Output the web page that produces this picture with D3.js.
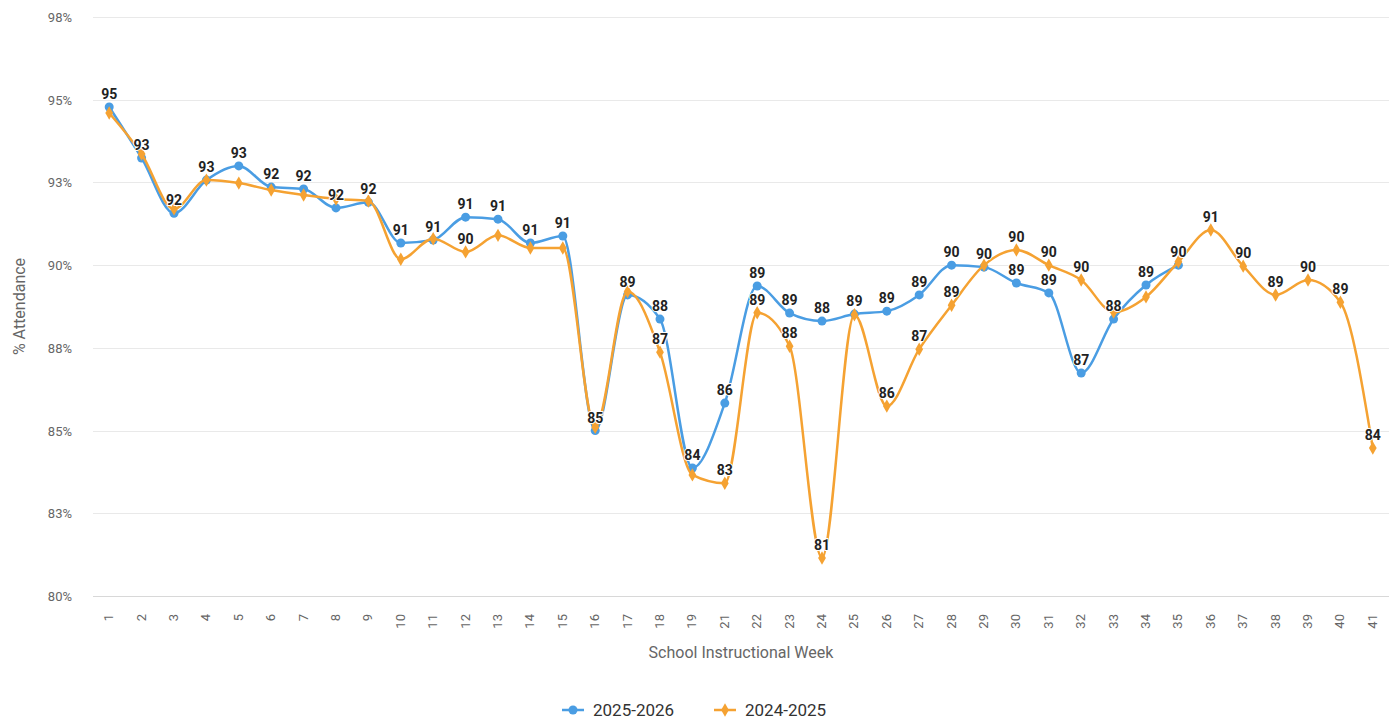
<!DOCTYPE html>
<html lang="en">
<head>
  <meta charset="UTF-8" />
  <title>Weekly Attendance</title>
  <script src="https://d3js.org/d3.v7.min.js"></script>
  <style>
    body {
      margin: 0;
      background: #fff;
      font-family: Roboto, "Noto Sans", sans-serif;
    }
    .grid line {
      stroke: #e9e9e9;
      stroke-width: 1px;
    }
    .tick-label {
      font-size: 13px;
      fill: #666;
    }
    .axis-title {
      font-size: 16px;
      fill: #666;
    }
    .data-label {
      font-size: 14px;
      font-weight: bold;
      fill: #222;
      stroke: #fff;
      stroke-width: 2px;
      paint-order: stroke;
      stroke-linejoin: round;
    }
    .legend text {
      font-size: 17px;
      fill: #333;
    }
  </style>
</head>
<body>
  <svg id="chart" width="1393" height="725"></svg>

  <script>
    // weeks shown on the x axis (week 20 is not in the data)
    const weeks = ["1","2","3","4","5","6","7","8","9","10","11","12","13","14","15","16","17","18","19",
      "21","22","23","24","25","26","27","28","29","30","31","32","33","34","35","36","37","38","39","40","41"];

    const seriesNames = ["2025-2026", "2024-2025"];

    // % attendance, 2025-2026 (through week 35)
    const att2526 = [94.78, 93.24, 91.57, 92.57, 93.0, 92.36, 92.3, 91.73, 91.9, 90.67,
      90.76, 91.45, 91.39, 90.67, 90.88, 85.0, 89.1, 88.37, 83.87, 85.83,
      89.37, 88.55, 88.31, 88.52, 88.61, 89.1, 90.0, 89.94, 89.46, 89.16,
      86.74, 88.37, 89.4, 90.0];

    // % attendance, 2024-2025
    const att2425 = [94.6, 93.36, 91.7, 92.57, 92.48, 92.27, 92.12, 92.0, 91.94, 90.18,
      90.8, 90.4, 90.9, 90.52, 90.52, 85.1, 89.2, 87.37, 83.66, 83.41,
      88.56, 87.55, 81.15, 88.5, 85.74, 87.46, 88.79, 90.0, 90.46, 90.0,
      89.55, 88.58, 89.04, 90.1, 91.06, 89.97, 89.1, 89.55, 88.88, 84.47];

    const yTicks = [80, 82.5, 85, 87.5, 90, 92.5, 95, 97.5];

    const colors = ["#4a9de3", "#f5a232"];

    const svg = d3.select("#chart");
    const plot = { left: 93, right: 1389, top: 17, bottom: 596 };

    const x = d3.scalePoint()
      .domain(weeks)
      .range([plot.left, plot.right])
      .padding(0.5);

    const y = d3.scaleLinear()
      .domain([80, 97.5])
      .range([plot.bottom, plot.top]);

    // gridlines
    svg.append("g")
      .attr("class", "grid")
      .selectAll("line")
      .data(yTicks)
      .join("line")
      .attr("x1", plot.left)
      .attr("x2", plot.right)
      .attr("y1", d => Math.round(y(d)) + 0.5)
      .attr("y2", d => Math.round(y(d)) + 0.5)
      .style("stroke", d => d === 80 ? "#d8d8d8" : null);

    // y tick labels
    svg.append("g")
      .selectAll("text")
      .data(yTicks)
      .join("text")
      .attr("class", "tick-label")
      .attr("x", 72)
      .attr("y", d => y(d) + 5)
      .attr("text-anchor", "end")
      .text(d => Math.round(d) + "%");

    // x tick labels (rotated)
    svg.append("g")
      .selectAll("text")
      .data(weeks)
      .join("text")
      .attr("class", "tick-label")
      .attr("text-anchor", "end")
      .attr("transform", d => `translate(${x(d) + 4}, 614) rotate(-90)`)
      .text(d => d);

    // axis titles
    svg.append("text")
      .attr("class", "axis-title")
      .attr("x", (plot.left + plot.right) / 2)
      .attr("y", 658)
      .attr("text-anchor", "middle")
      .text("School Instructional Week");

    svg.append("text")
      .attr("class", "axis-title")
      .attr("transform", `translate(25, ${(plot.top + plot.bottom) / 2}) rotate(-90)`)
      .attr("text-anchor", "middle")
      .text("% Attendance");

    const series = [att2526, att2425].map((vals, s) => ({
      name: seriesNames[s],
      color: colors[s],
      points: vals.map((v, i) => ({ week: weeks[i], value: v }))
    }));

    const line = d3.line()
      .x(d => x(d.week))
      .y(d => y(d.value))
      .curve(d3.curveMonotoneX);

    const diamond = d3.symbol().type(d3.symbolDiamond).size(52);

    // draw series, 2025-2026 underneath
    series.forEach((s, si) => {
      const g = svg.append("g");
      g.append("path")
        .datum(s.points)
        .attr("fill", "none")
        .attr("stroke", s.color)
        .attr("stroke-width", 2.5)
        .attr("d", line);

      if (si === 0) {
        g.selectAll("circle")
          .data(s.points)
          .join("circle")
          .attr("cx", d => x(d.week))
          .attr("cy", d => y(d.value))
          .attr("r", 4.5)
          .attr("fill", s.color);
      } else {
        g.selectAll("path.mk")
          .data(s.points)
          .join("path")
          .attr("class", "mk")
          .attr("transform", d => `translate(${x(d.week)}, ${y(d.value)})`)
          .attr("d", diamond)
          .attr("fill", s.color);
      }
    });

    // data labels, hide ones that collide (first series wins), boxes padded
    const labelLayer = svg.append("g");
    const placed = [];
    const pad = 4;
    series.forEach(s => {
      s.points.forEach(p => {
        const t = labelLayer.append("text")
          .attr("class", "data-label")
          .attr("x", x(p.week))
          .attr("y", y(p.value) - 8)
          .attr("text-anchor", "middle")
          .text(Math.round(p.value));
        const b = t.node().getBBox();
        const box = { x0: b.x - 2, x1: b.x + b.width + 2, y0: b.y - pad, y1: b.y + b.height + pad };
        const hit = placed.some(o => box.x0 < o.x1 && box.x1 > o.x0 && box.y0 < o.y1 && box.y1 > o.y0);
        if (hit) t.remove();
        else placed.push(box);
      });
    });

    // legend
    const legend = svg.append("g").attr("class", "legend");
    const legendX = [562, 714];
    series.forEach((s, i) => {
      const g = legend.append("g").attr("transform", `translate(${legendX[i]}, 710)`);
      g.append("line")
        .attr("x1", 0).attr("x2", 22)
        .attr("stroke", s.color)
        .attr("stroke-width", 2.5);
      if (i === 0) {
        g.append("circle").attr("cx", 11).attr("r", 4.5).attr("fill", s.color);
      } else {
        g.append("path").attr("transform", "translate(11,0)").attr("d", diamond).attr("fill", s.color);
      }
      g.append("text")
        .attr("x", 31)
        .attr("y", 6)
        .text(s.name);
    });
  </script>
</body>
</html>
